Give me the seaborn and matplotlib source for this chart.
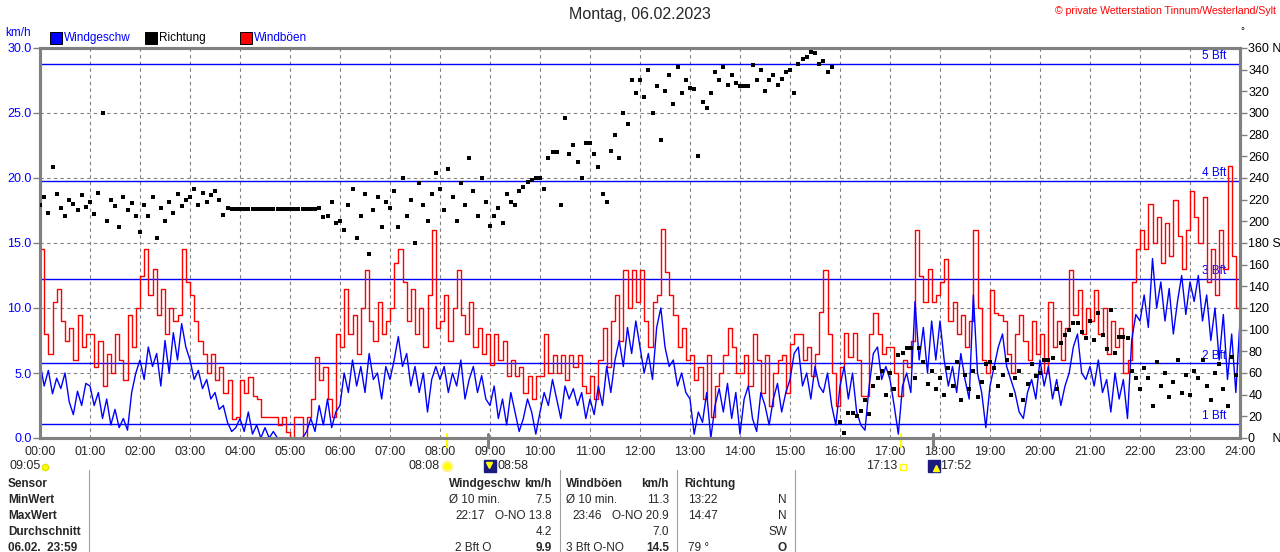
import numpy as np
import pandas as pd
import seaborn as sns
import matplotlib.pyplot as plt
from matplotlib.lines import Line2D
from matplotlib.transforms import blended_transform_factory

# 5-minute readings 00:00 .. 24:00 (km/h and degrees)
speed = [
    5.8, 4.0, 5.2, 3.4, 4.6, 3.8, 5.0, 2.8, 1.8, 3.6, 2.5, 4.2,      # 00
    4.0, 2.5, 3.5, 1.5, 3.0, 1.0, 2.2, 0.8, 1.5, 0.6, 3.5, 5.0,      # 01
    6.0, 4.5, 7.0, 5.5, 6.5, 4.0, 7.5, 5.0, 8.1, 6.0, 8.8, 7.0,      # 02
    6.0, 4.5, 5.2, 3.8, 4.5, 3.0, 3.5, 2.2, 2.5, 1.2, 0.5, 0.8,      # 03
    1.5, 0.5, 2.0, 0.3, 1.0, 0.0, 0.8, 0.0, 0.5, 0.0, 0.0, 0.0,      # 04
    0.0, 0.0, 0.0, 0.0, 0.5, 1.5, 0.5, 2.5, 1.0, 3.0, 0.8, 2.0,      # 05
    2.5, 5.0, 3.5, 6.0, 4.0, 5.5, 3.5, 6.5, 4.5, 5.0, 3.0, 5.5,      # 06
    4.5, 6.0, 7.8, 5.5, 6.5, 4.0, 5.5, 3.5, 5.0, 2.0, 4.5, 5.5,      # 07
    4.5, 5.5, 3.5, 5.0, 4.0, 6.0, 3.0, 4.5, 5.5, 3.5, 4.8, 3.0,      # 08
    2.5, 4.0, 1.5, 3.0, 1.0, 3.5, 2.0, 0.5, 1.5, 3.0, 2.0, 0.3,      # 09
    2.0, 3.5, 2.5, 4.5, 3.0, 1.5, 4.0, 3.0, 3.8, 2.5, 3.5, 1.5,      # 10
    3.0, 1.8, 4.0, 2.5, 5.5, 3.5, 6.0, 7.5, 5.5, 8.5, 6.5, 9.0,      # 11
    7.0, 5.0, 6.5, 4.5, 8.5, 10.0, 7.0, 5.5, 6.0, 4.0, 5.0, 3.5,     # 12
    3.0, 0.3, 2.0, 1.2, 3.5, 0.0, 2.5, 3.8, 2.0, 4.2, 1.5, 3.5,      # 13
    0.3, 3.0, 4.0, 1.5, 0.5, 3.5, 2.5, 1.0, 3.0, 4.2, 2.0, 3.5,      # 14
    4.5, 6.5, 7.0, 4.0, 5.0, 3.0, 5.5, 4.0, 3.5, 5.0, 2.5, 1.0,      # 15
    4.0, 5.5, 3.0, 5.0, 2.0, 1.0, 0.6, 4.0, 6.5, 7.0, 4.5, 5.5,      # 16
    4.5, 2.5, 0.3, 4.0, 5.0, 3.5, 10.5, 6.0, 8.5, 5.0, 9.0, 6.0,     # 17
    9.0, 6.0, 4.0, 5.5, 3.5, 6.5, 4.5, 3.0, 11.0, 5.0, 3.5, 0.8,     # 18
    4.0, 5.5, 7.0, 8.0, 5.5, 4.5, 3.5, 2.0, 1.5, 3.5, 4.5, 3.0,      # 19
    6.0, 4.0, 5.5, 3.0, 4.5, 2.5, 4.0, 5.0, 7.0, 8.0, 5.0, 4.5,      # 20
    5.5, 4.0, 6.0, 3.5, 4.5, 2.0, 5.0, 3.0, 4.5, 1.5, 7.5, 9.5,      # 21
    9.0, 11.0, 8.5, 13.8, 10.0, 12.0, 9.0, 11.5, 8.0, 10.5, 12.5, 9.5,  # 22
    12.0, 10.5, 12.5, 9.0, 11.0, 7.5, 10.0, 6.0, 9.5, 4.5, 8.0, 3.5,    # 23
    9.0,
]

gust = [
    14.5, 8.0, 6.5, 10.5, 11.5, 9.0, 7.5, 8.5, 6.0, 9.5, 7.0, 8.0,
    8.0, 5.5, 7.5, 4.0, 6.5, 5.0, 8.0, 6.0, 4.5, 9.5, 7.0, 10.0,
    12.5, 14.5, 11.0, 13.0, 9.5, 11.5, 8.0, 10.0, 9.0, 9.5, 14.5, 12.0,
    11.0, 9.0, 7.5, 6.5, 5.0, 6.5, 4.5, 5.5, 3.5, 4.5, 1.5, 1.6,
    4.5, 3.5, 4.7, 3.2, 3.0, 1.6, 1.6, 1.6, 1.6, 1.0, 1.6, 0.5,
    0.0, 1.6, 1.6, 0.0, 1.6, 3.0, 6.2, 4.5, 5.5, 3.0, 1.6, 8.0,
    7.0, 11.5, 8.0, 9.5, 6.5, 10.0, 12.9, 9.0, 7.5, 10.5, 8.0, 9.0,
    10.0, 13.5, 14.5, 12.0, 9.0, 11.5, 8.0, 10.0, 7.0, 11.0, 16.0, 8.5,
    9.0, 11.0, 7.5, 10.0, 12.9, 9.5, 8.0, 10.5, 7.0, 8.5, 6.5, 8.0,
    5.6, 8.0, 6.0, 7.5, 4.8, 6.0, 4.8, 5.5, 3.5, 4.8, 3.0, 4.8,
    4.8, 8.0, 5.0, 6.4, 5.0, 6.4, 4.5, 6.4, 5.5, 6.4, 4.0, 3.5,
    4.8, 3.0, 6.0, 8.5, 5.5, 9.0, 11.0, 7.5, 12.9, 10.0, 12.9, 10.5,
    12.9, 9.0, 7.0, 10.5, 11.0, 16.1, 12.8, 11.0, 9.5, 7.0, 8.5, 6.0,
    6.4, 4.5, 5.5, 3.0, 6.4, 1.6, 4.0, 5.0, 6.4, 8.5, 7.0, 5.0,
    5.0, 6.4, 4.0, 8.0, 6.0, 3.5, 6.4, 2.5, 5.0, 6.0, 6.4, 3.5,
    7.2, 8.0, 8.0, 6.0, 7.0, 4.8, 6.5, 9.7, 12.9, 8.0, 5.0, 2.5,
    5.5, 8.1, 6.2, 8.1, 6.0, 3.2, 3.2, 8.0, 9.6, 8.0, 6.5, 7.0,
    7.0, 5.0, 3.2, 6.0, 5.5, 7.5, 16.0, 12.5, 10.5, 13.0, 10.5, 11.0,
    12.0, 13.8, 9.0, 10.5, 8.0, 9.5, 7.0, 9.0, 16.0, 10.0, 6.0, 5.0,
    11.4, 9.6, 9.5, 9.0, 6.5, 5.0, 8.0, 9.5, 7.5, 6.0, 9.0, 6.5,
    8.0, 5.0, 10.5, 7.0, 9.0, 6.0, 8.5, 12.9, 9.5, 11.4, 8.0, 10.0,
    9.0, 11.4, 8.0, 10.0, 6.5, 9.0, 7.0, 8.5, 5.0, 6.0, 12.0, 14.5,
    16.0, 14.5, 18.0, 15.0, 17.0, 13.5, 16.5, 14.0, 18.3, 15.5, 13.0, 16.0,
    19.0, 17.0, 15.0, 18.5, 12.0, 14.5, 11.0, 16.0, 13.0, 20.9, 14.0, 10.0,
    13.0,
]

nan = np.nan
direction = [
    215, 222, 208, 250, 225, 212, 205, 220, 216, 210, 224, 213,
    218, 207, 226, 300, 200, 220, 214, 195, 222, 210, 217, 205,
    190, 215, 205, 222, 185, 212, 200, 218, 208, 225, 214, 220,
    222, 230, 215, 226, 218, 224, 228, 220, 206, 212, 211, 211,
    211, 211, 211, 211, 211, 211, 211, 211, 211, 211, 211, 211,
    211, 211, 211, 211, 211, 211, 211, 212, 204, 205, 218, 198,
    200, 192, 215, 230, 185, 205, 225, 170, 210, 222, 195, 218,
    212, 228, 195, 240, 205, 220, 180, 235, 215, 200, 225, 245,
    230, 210, 248, 222, 200, 235, 215, 258, 228, 205, 240, 218,
    196, 205, 212, 198, 225, 218, 215, 228, 232, 236, 238, 240,
    240, 230, 258, 264, 264, 215, 295, 262, 270, 255, 240, 272,
    272, 262, 250, 225, 218, 265, 280, 258, 300, 290, 330, 318,
    330, 315, 340, 300, 325, 275, 320, 335, 308, 342, 318, 330,
    323, 322, 260, 310, 305, 318, 338, 330, 342, 326, 335, 328,
    325, 325, 325, 344, 330, 340, 320, 330, 335, 326, 331, 338,
    340, 318, 345, 350, 352, 356, 355, 345, 348, 338, 342, nan,
    15, 5, 23, 23, 20, 25, 35, 22, 48, 55, 62, 40,
    60, 45, 77, 78, 83, 83, 55, 83, 70, 50, 62, 45,
    55, 40, 65, 48, 70, 35, 58, 45, 62, 38, 52, 68,
    70, 65, 48, 58, 72, 40, 55, 62, 35, 50, 68, 57,
    60, 72, 72, 74, 45, 88, 95, 100, 106, 106, 98, 92,
    108, 90, 115, 95, 82, 118, 78, 93, 93, 92, 62, 55,
    45, 65, 55, 30, 70, 48, 60, 38, 52, 72, 42, 58,
    40, 62, 55, 72, 48, 35, 60, 68, 45, 30, 75, 58,
    nan,
]

bft_kmh = [1.08, 5.76, 12.24, 19.8, 28.8]
bft_labels = ["1 Bft", "2 Bft", "3 Bft", "4 Bft", "5 Bft"]
hour_labels = [f"{h:02d}:00" for h in range(25)]
speed_ticks = [0, 5, 10, 15, 20, 25, 30]
dir_ticks = list(range(0, 361, 20))
dir_labels = ["0     N" if d == 0 else "180 S" if d == 180 else "360 N" if d == 360 else str(d)
              for d in dir_ticks]

df = pd.DataFrame({"hour": np.arange(len(speed)) / 12.0,
                   "speed": speed, "gust": gust, "direction": direction})

BLUE = "#0000ff"
RED = "#ff0000"
GRAY = "#808080"

sns.set_style("white")
plt.rcParams["font.family"] = ["Liberation Sans", "DejaVu Sans"]
plt.rcParams["font.size"] = 9

fig = plt.figure(figsize=(12.8, 5.52), dpi=100)
W, H = 1280, 552
ax = fig.add_axes([40 / W, 1 - 438 / H, 1200 / W, 390 / H])


def px(x, y):
    return x / W, 1 - y / H


# Beaufort reference lines
for v, lab in zip(bft_kmh, bft_labels):
    ax.axhline(v, color=BLUE, lw=1.0, zorder=1.5)
    ax.text(23.72, v + 0.12, lab, color=BLUE, ha="right", va="bottom", fontsize=8.5, zorder=1.5)

sns.lineplot(data=df, x="hour", y="gust", ax=ax, color=RED, lw=1.0,
             drawstyle="steps-post", legend=False, zorder=3)
sns.lineplot(data=df, x="hour", y="speed", ax=ax, color=BLUE, lw=1.0,
             legend=False, zorder=4)

ax.set_xlim(0, 24)
ax.set_ylim(0, 30)
ax.set_xticks(range(25))
ax.set_xticklabels(hour_labels)
ax.set_yticks(speed_ticks)
ax.set_yticklabels([f"{v:.1f}" for v in speed_ticks])
ax.set_xlabel("")
ax.set_ylabel("")
ax.grid(True, color=GRAY, linestyle=(0, (3, 3)), lw=0.8)
ax.set_axisbelow(True)
ax.tick_params(axis="x", length=0, pad=5.5, labelsize=9)
ax.tick_params(axis="y", length=5, width=1, color=GRAY, labelcolor=BLUE, labelsize=9, pad=1)
for sp in ax.spines.values():
    sp.set_color(GRAY)
    sp.set_linewidth(2.2)
    sp.set_zorder(6)

ax2 = ax.twinx()
d = df.dropna(subset=["direction"])
sns.scatterplot(x=d["hour"], y=d["direction"], ax=ax2, color="black", marker="s",
                s=6, linewidth=0, legend=False, zorder=5)
ax2.set_ylim(0, 360)
ax2.set_yticks(dir_ticks)
ax2.set_yticklabels(dir_labels)
ax2.set_ylabel("")
ax2.grid(False)
ax2.tick_params(axis="y", length=5, width=1, color=GRAY, labelcolor="black", labelsize=9, pad=1)
for sp in ax2.spines.values():
    sp.set_color(GRAY)
    sp.set_linewidth(2.2)

# sun / moon markers on the time axis
trans = blended_transform_factory(ax.transData, ax.transAxes)
for t, c, w in [(8 + 8 / 60, "#ffff00", 1.6), (8 + 58 / 60, GRAY, 2.2),
                (17 + 13 / 60, "#ffff00", 1.6), (17 + 52 / 60, GRAY, 2.2)]:
    ax.plot([t, t], [0.011, -0.024], color=c, lw=w, transform=trans, clip_on=False, zorder=7)

ft = fig.transFigure
EV_Y = 466
fig.text(*px(10, EV_Y), "09:05", ha="left", va="center", fontsize=9)
fig.add_artist(Line2D([px(45, EV_Y + 1)[0]], [px(45, EV_Y + 1)[1]], marker="o", ms=4.5,
                      color="#ffff00", mec="#e0e000", transform=ft))
fig.text(*px(440, EV_Y), "08:08", ha="right", va="center", fontsize=9)
fig.add_artist(Line2D([px(447, EV_Y)[0]], [px(447, EV_Y)[1]], marker="o", ms=7, color="#ffff00",
                      mec="#fff2a0", mew=1.5, transform=ft))
fig.add_artist(Line2D([px(490, EV_Y)[0]], [px(490, EV_Y)[1]], marker="s", ms=8, color="#1a1a80",
                      transform=ft))
fig.add_artist(Line2D([px(489, EV_Y - 1)[0]], [px(489, EV_Y - 1)[1]], marker="v", ms=4,
                      color="#ffff00", transform=ft))
fig.text(*px(497, EV_Y), "08:58", ha="left", va="center", fontsize=9)
fig.text(*px(897, EV_Y), "17:13", ha="right", va="center", fontsize=9)
fig.add_artist(Line2D([px(903, EV_Y + 1)[0]], [px(903, EV_Y + 1)[1]], marker="s", ms=4,
                      mfc="none", mec="#ffff00", transform=ft))
fig.add_artist(Line2D([px(934, EV_Y)[0]], [px(934, EV_Y)[1]], marker="s", ms=8, color="#1a1a80",
                      transform=ft))
fig.add_artist(Line2D([px(936, EV_Y + 2)[0]], [px(936, EV_Y + 2)[1]], marker="^", ms=4,
                      color="#ffff00", transform=ft))
fig.text(*px(940, EV_Y), "17:52", ha="left", va="center", fontsize=9)

# header
fig.text(*px(640, 15), "Montag, 06.02.2023", ha="center", va="center", fontsize=11.5)
fig.text(*px(1276, 11), "\u00a9 private Wetterstation Tinnum/Westerland/Sylt", ha="right",
         va="center", fontsize=7.6, color=RED)
fig.text(*px(5, 33), "km/h", ha="left", va="center", fontsize=8.5, color=BLUE)
fig.text(*px(1240, 31), "\u00b0", ha="left", va="center", fontsize=7, color="black")

for xs, c, lab, tc in [(55.5, BLUE, "Windgeschw", BLUE), (150.5, "black", "Richtung", "black"),
                       (245.5, RED, "Windböen", BLUE)]:
    fig.add_artist(Line2D([px(xs, 38)[0]], [px(xs, 38)[1]], marker="s", ms=8, color=c,
                          mec="black", mew=0.7, transform=ft))
    fig.text(*px(xs + 8.5, 38), lab, ha="left", va="center", fontsize=8.5, color=tc)

# summary table
for xs in [89, 560, 677, 795]:
    fig.add_artist(Line2D([xs / W, xs / W], [1 - 470 / H, 0], color="#a0a0a0", lw=0.8, transform=ft))

rows_y = [484, 500, 516, 532, 548]
row_names = ["Sensor", "MinWert", "MaxWert", "Durchschnitt", "06.02.  23:59"]
for y, name in zip(rows_y, row_names):
    fig.text(*px(8, y), name, ha="left", va="center", fontsize=8.5, fontweight="bold")

cells = [
    (449, 484, "Windgeschw", "left", True), (552, 484, "km/h", "right", True),
    (566, 484, "Windböen", "left", True), (669, 484, "km/h", "right", True),
    (684, 484, "Richtung", "left", True),
    (449, 500, "Ø 10 min.", "left", False), (552, 500, "7.5", "right", False),
    (566, 500, "Ø 10 min.", "left", False), (669, 500, "11.3", "right", False),
    (688, 500, "13:22", "left", False), (787, 500, "N", "right", False),
    (455, 516, "22:17", "left", False), (552, 516, "O-NO 13.8", "right", False),
    (572, 516, "23:46", "left", False), (669, 516, "O-NO 20.9", "right", False),
    (688, 516, "14:47", "left", False), (787, 516, "N", "right", False),
    (552, 532, "4.2", "right", False), (669, 532, "7.0", "right", False),
    (787, 532, "SW", "right", False),
    (455, 548, "2 Bft O", "left", False), (552, 548, "9.9", "right", True),
    (566, 548, "3 Bft O-NO", "left", False), (669, 548, "14.5", "right", True),
    (688, 548, "79 °", "left", False), (787, 548, "O", "right", True),
]
for x, y, s, ha, bold in cells:
    fig.text(*px(x, y), s, ha=ha, va="center", fontsize=8.5,
             fontweight="bold" if bold else "normal")

fig.savefig("out.png", dpi=100)
